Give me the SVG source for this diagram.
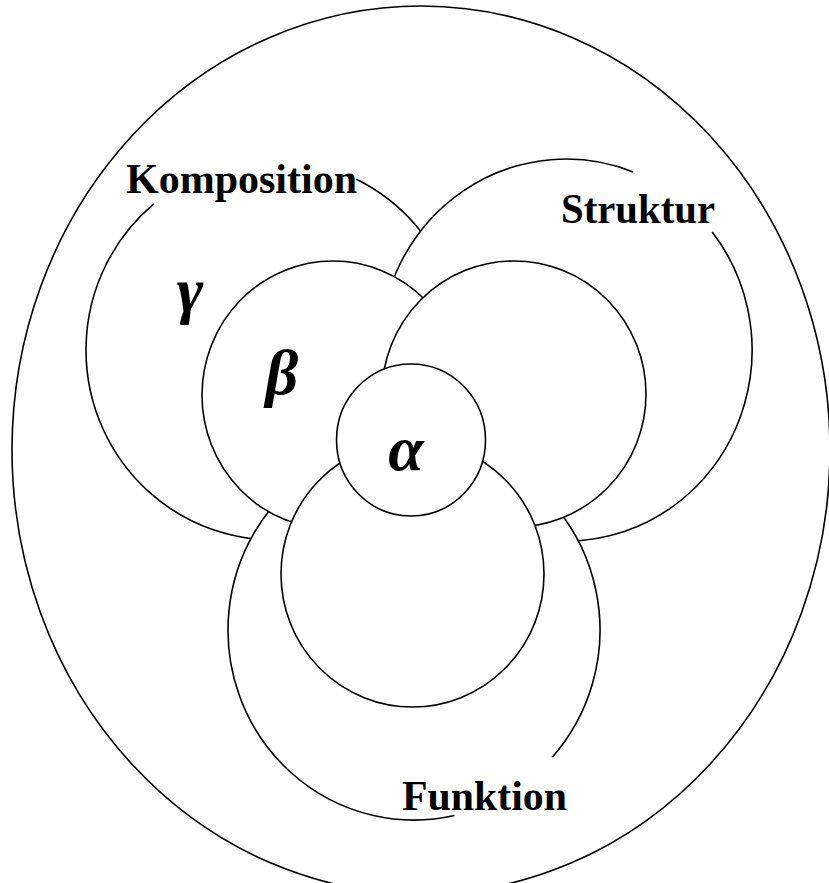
<svg xmlns="http://www.w3.org/2000/svg" width="829" height="883" viewBox="0 0 829 883">
  <style>
    .ln { fill: none; stroke: #000; stroke-width: 1.6; }
    .fw { fill: #fff; stroke: none; }
    .ci { fill: #fff; stroke: #000; stroke-width: 1.6; }
    .lbl { font-family: "Liberation Serif", "Times New Roman", serif; font-weight: bold; font-size: 42px; fill: #000; }
    .gr { font-family: "Liberation Serif", "Times New Roman", serif; font-style: italic; font-weight: bold; font-size: 64px; fill: #000; text-anchor: middle; }
  </style>
  <rect width="829" height="883" fill="#fff"/>

  <g id="outer">
    <ellipse class="ln" cx="421" cy="450" rx="409" ry="444"/>
  </g>

  <g id="komposition">
    <ellipse class="fw" cx="274" cy="350" rx="188" ry="190"/>
    <path class="ln" d="M356.4,179.2 A188,190 0 1 1 153.8,203.9"/>
  </g>

  <g id="struktur">
    <ellipse class="fw" cx="566" cy="350" rx="186" ry="191"/>
    <path class="ln" d="M712.2,231.9 A186,191 0 1 1 633.1,171.9"/>
  </g>

  <g id="funktion">
    <ellipse class="fw" cx="414" cy="630" rx="186" ry="190"/>
    <path class="ln" d="M454.4,815.5 A186,190 0 1 1 552.2,757.2"/>
  </g>

  <g id="beta-komposition">
    <ellipse class="ci" cx="333" cy="395" rx="131" ry="134"/>
  </g>
  <g id="beta-struktur">
    <ellipse class="ci" cx="514" cy="394" rx="132" ry="133"/>
  </g>
  <g id="beta-funktion">
    <ellipse class="ci" cx="412.5" cy="574" rx="131.5" ry="133"/>
  </g>

  <g id="alpha">
    <ellipse class="ci" cx="411" cy="440" rx="74.5" ry="76"/>
  </g>

  <g id="labels">
    <text class="lbl" x="126" y="193" textLength="231" lengthAdjust="spacingAndGlyphs">Komposition</text>
    <text class="lbl" x="561" y="223" textLength="154" lengthAdjust="spacingAndGlyphs">Struktur</text>
    <text class="lbl" x="402" y="810" textLength="165" lengthAdjust="spacingAndGlyphs">Funktion</text>
    <text class="gr" x="190" y="311">γ</text>
    <text class="gr" x="282" y="394">β</text>
    <text class="gr" x="406" y="470">α</text>
  </g>
</svg>
